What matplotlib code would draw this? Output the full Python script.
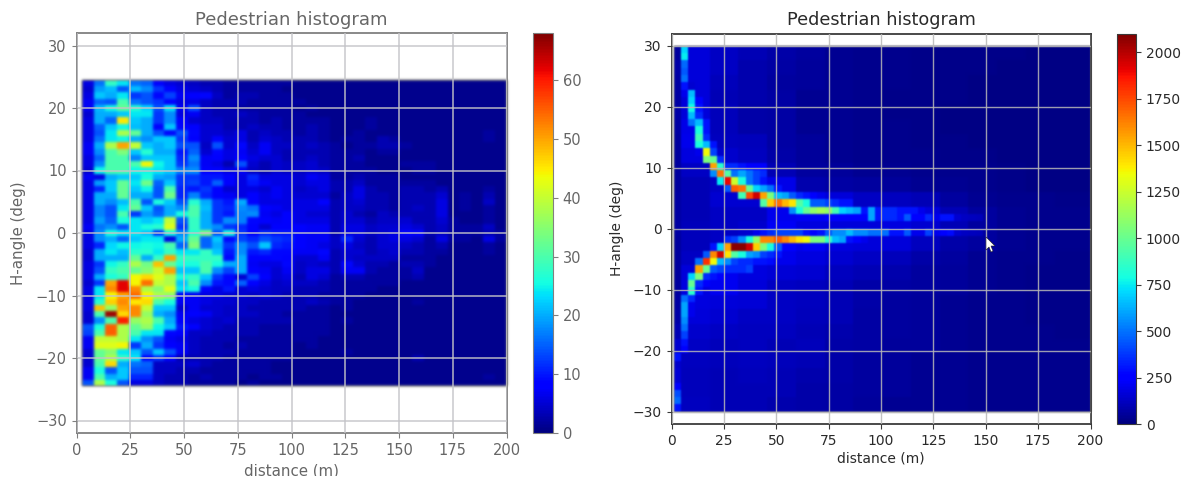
import numpy as np
import matplotlib
matplotlib.use("Agg")
import matplotlib.pyplot as plt
from matplotlib.patches import Polygon, Rectangle

''' [ LEFT DATA ] '''

# first 16 distance bins, top row (+24.5 deg) to bottom row (-24.5 deg)
left_near = [
    [6,16,28,24,16,15,8,6,5,4,3,3,2,2,2,2],
    [5,19,21,14,21,18,12,8,6,5,4,3,2,2,2,2],
    [6,22,20,24,12,14,9,13,7,8,9,4,2,3,3,2],
    [7,15,14,30,16,14,12,8,6,6,4,3,3,3,2,2],
    [7,21,26,32,27,23,14,24,7,14,4,3,3,2,2,2],
    [5,20,20,22,24,24,12,18,6,7,4,3,3,4,3,2],
    [6,20,15,45,22,20,12,18,8,5,4,4,3,3,3,2],
    [6,15,22,25,21,20,8,22,9,8,5,5,3,3,4,3],
    [6,14,24,38,32,20,14,9,14,9,5,5,4,6,3,4],
    [6,16,24,25,20,18,22,22,12,8,5,8,5,6,3,5],
    [7,20,38,50,40,22,20,22,14,14,4,14,5,9,4,7],
    [7,18,30,34,22,27,20,20,10,15,5,9,6,7,5,7],
    [6,15,30,30,17,22,22,22,11,18,7,8,6,8,6,5],
    [6,18,30,30,30,44,25,22,12,16,7,6,3,14,5,3],
    [5,25,30,30,25,25,24,22,17,18,8,8,6,7,4,3],
    [7,6,20,22,22,26,20,19,12,12,10,10,8,6,11,6],
    [6,19,22,32,24,33,15,22,12,13,10,15,8,6,10,7],
    [6,11,22,32,22,25,14,30,11,10,12,8,5,6,6,5],
    [6,20,20,32,20,20,14,33,11,17,11,8,7,6,8,6],
    [6,20,18,21,30,14,26,22,14,27,20,12,10,20,8,6],
    [6,17,14,24,32,22,14,20,18,30,21,12,11,18,16,8],
    [6,17,14,30,12,19,15,20,26,30,20,12,10,17,18,7],
    [6,19,15,26,24,22,24,40,14,28,20,12,18,17,9,8],
    [7,16,18,14,24,26,27,42,12,28,20,18,12,11,8,5],
    [6,18,26,24,24,22,12,26,18,27,34,14,26,12,8,11],
    [6,18,20,15,22,24,24,6,20,32,15,22,9,13,11,14],
    [6,11,23,25,25,26,25,30,15,34,15,20,12,18,14,22],
    [5,20,24,21,27,27,24,28,24,24,28,22,10,18,10,11],
    [5,20,20,20,32,20,28,50,28,28,28,28,9,20,8,8],
    [6,12,25,28,38,33,48,32,26,26,30,26,20,20,7,6],
    [6,14,28,30,32,35,40,50,22,22,30,18,13,20,8,7],
    [6,20,26,28,44,46,42,38,26,28,22,12,9,5,13,8],
    [5,12,50,62,44,54,40,38,22,30,18,10,9,15,8,6],
    [6,24,52,62,52,38,35,42,24,26,8,6,10,5,6,5],
    [6,24,44,50,54,44,38,36,8,7,6,6,5,5,4,5],
    [6,27,47,52,45,46,30,26,7,7,6,5,5,4,4,3],
    [6,48,36,50,52,40,22,22,5,7,5,5,4,4,3,3],
    [5,30,66,46,52,36,20,18,7,8,7,5,4,4,4,3],
    [5,18,30,60,36,38,30,20,8,6,5,4,5,3,3,3],
    [14,26,55,38,32,36,25,22,10,8,5,4,3,3,3,2],
    [13,30,55,38,30,24,24,9,8,4,4,3,3,3,3,2],
    [7,40,40,38,24,18,14,7,6,4,3,3,3,2,2,2],
    [7,42,42,44,12,20,12,8,7,4,3,3,2,3,2,2],
    [5,32,35,24,22,14,22,14,7,4,3,3,3,2,2,2],
    [5,32,38,28,24,9,12,8,3,3,3,3,2,2,2,2],
    [5,30,46,20,16,15,4,4,4,5,3,2,2,2,2,2],
    [7,26,14,22,14,14,4,4,3,3,2,2,2,2,2,2],
    [7,30,20,22,11,11,4,3,3,2,3,2,2,2,1,2],
    [14,38,26,14,6,6,4,3,3,2,2,2,2,1,2,1],
]

# remaining 20 distance bins, same rows
left_far = [
    [2,2,1,1,1,1,1,1,1,1,1,1,1,1,1,1,1,1,1,1],
    [2,1,1,1,1,1,1,1,1,1,1,1,1,1,1,1,1,1,1,1],
    [2,2,1,1,1,1,1,1,1,1,1,1,1,1,1,1,1,1,1,1],
    [2,2,2,1,1,1,1,1,1,1,1,1,1,1,1,1,1,1,1,1],
    [2,2,1,2,1,1,1,1,1,1,1,1,1,1,1,1,1,1,1,1],
    [2,2,2,1,1,1,1,1,1,1,1,1,1,1,1,1,1,1,1,1],
    [3,2,2,2,2,1,1,1,2,1,1,1,1,1,1,1,1,1,1,1],
    [3,2,2,3,2,1,1,1,2,1,1,1,1,1,1,1,1,1,1,1],
    [3,3,2,3,2,1,1,2,1,1,1,1,1,1,1,1,1,1,2,1],
    [4,3,3,3,2,1,2,2,1,3,2,1,1,1,1,1,1,1,2,1],
    [4,4,3,4,3,2,1,2,2,3,3,2,1,1,1,1,1,1,1,1],
    [4,3,3,3,3,2,2,2,1,2,2,1,1,1,1,1,1,1,1,1],
    [5,3,3,4,3,2,2,3,1,1,1,1,1,1,1,1,1,1,1,1],
    [5,4,4,5,3,2,2,2,1,1,1,2,2,2,1,1,1,1,1,1],
    [5,4,4,5,4,2,2,2,2,1,1,1,2,2,1,1,1,1,1,1],
    [6,6,5,7,6,2,2,3,2,2,2,1,1,1,1,1,1,1,1,1],
    [6,6,5,6,6,3,3,4,2,2,2,2,2,2,1,1,1,1,1,1],
    [7,6,4,5,6,3,3,6,3,2,2,3,3,2,3,1,1,1,2,1],
    [7,6,5,5,5,2,4,6,3,3,2,3,3,3,5,1,2,1,3,1],
    [6,6,6,6,8,3,4,5,3,3,2,3,3,3,6,1,2,1,4,1],
    [7,6,6,6,6,3,4,4,3,3,2,3,4,3,6,1,2,1,2,1],
    [6,8,6,5,5,3,5,3,2,4,3,3,3,3,6,1,1,1,2,1],
    [7,8,6,6,6,3,5,5,3,4,4,5,3,3,5,2,1,1,2,1],
    [8,8,8,7,7,3,6,6,4,5,5,6,5,3,4,2,2,2,4,1],
    [10,10,8,7,7,3,6,6,4,5,6,8,8,3,4,2,2,2,3,2],
    [12,11,8,7,7,4,11,5,3,5,6,6,5,2,6,2,2,1,6,2],
    [11,10,8,7,6,4,6,4,3,5,5,4,3,2,3,1,1,1,2,1],
    [9,9,7,7,9,3,5,5,3,4,5,3,3,2,2,1,1,1,2,1],
    [9,8,5,5,7,3,5,4,4,4,4,2,2,2,1,1,1,1,1,1],
    [6,9,4,5,4,3,9,5,3,3,2,3,3,2,1,1,1,1,1,1],
    [5,7,4,6,6,3,7,7,3,2,2,2,4,1,1,1,1,1,1,1],
    [5,6,3,6,5,2,3,3,2,2,2,2,3,1,1,1,1,1,1,1],
    [4,5,4,4,3,2,2,2,2,2,2,1,1,1,1,1,1,1,1,1],
    [4,4,3,3,3,2,2,2,2,1,1,1,1,1,1,1,1,1,1,1],
    [4,3,3,3,2,2,2,2,1,1,1,1,1,1,1,1,1,1,1,1],
    [3,3,3,4,3,2,2,1,1,1,1,1,2,1,1,1,1,1,1,1],
    [3,3,3,2,2,1,2,1,1,1,1,1,1,1,1,1,1,1,1,1],
    [3,2,2,2,2,1,1,1,1,1,1,1,1,1,1,1,1,1,1,1],
    [3,3,2,2,2,1,2,1,1,1,1,1,1,1,1,1,1,1,1,1],
    [2,2,2,2,2,1,1,1,1,1,1,1,1,1,1,1,1,1,1,1],
    [2,2,2,2,2,1,1,1,1,1,1,1,1,1,1,1,1,1,1,1],
    [2,2,2,2,1,1,1,1,1,1,1,1,1,1,1,1,1,1,1,1],
    [2,2,1,2,1,1,1,1,1,1,1,1,1,1,1,1,1,1,1,1],
    [2,2,1,1,1,1,2,1,1,1,1,1,1,1,1,1,1,1,1,1],
    [2,2,1,1,1,1,1,1,1,1,1,1,3,1,1,1,1,1,1,1],
    [1,1,1,1,1,1,1,1,1,1,1,1,1,1,1,1,1,1,1,1],
    [1,1,1,1,1,1,1,1,1,1,1,1,1,1,1,1,1,1,1,1],
    [2,1,1,1,1,1,1,1,1,1,1,1,1,1,1,1,1,1,2,1],
    [1,1,1,1,1,1,1,1,1,1,1,1,1,1,1,1,1,1,1,1],
]

''' [ RIGHT DATA ] '''

# background level for 2 angle rows each: first bin alone, then groups of bins
right_background = [
    [60,170,130,100,80,60,40,30,25,20,20,20,20,15,15],
    [80,170,130,90,70,50,40,30,25,20,20,20,15,15,15],
    [70,170,110,90,60,50,40,30,25,20,20,15,15,15,15],
    [70,170,100,90,70,40,35,25,20,20,20,15,15,15,15],
    [80,170,110,80,70,40,35,25,20,20,15,15,15,15,15],
    [70,190,110,80,70,40,35,30,25,20,15,15,15,15,15],
    [60,200,120,110,70,50,40,30,25,20,20,15,15,15,15],
    [60,180,140,120,80,50,40,30,30,25,20,20,15,15,15],
    [60,130,220,250,100,60,50,40,35,30,30,25,20,15,15],
    [60,100,130,230,190,90,70,60,50,40,40,30,20,15,15],
    [70,100,150,150,200,200,170,130,120,100,60,40,30,25,20],
    [70,100,130,130,200,220,230,250,200,170,100,60,40,30,25],
    [70,110,130,140,220,180,170,170,180,150,100,60,40,30,25],
    [60,110,130,240,230,220,180,170,170,120,80,60,40,30,25],
    [60,130,170,200,200,180,150,130,110,80,60,40,30,25,20],
    [60,170,210,180,160,150,120,100,90,60,50,40,30,20,20],
    [60,180,210,170,130,120,100,80,70,60,50,40,30,20,20],
    [70,180,170,160,130,120,100,80,60,50,40,30,30,20,20],
    [80,170,150,130,130,110,100,70,60,50,40,30,30,20,20],
    [100,140,130,120,120,100,90,70,60,50,40,30,30,25,20],
    [150,130,110,120,100,110,80,70,50,50,40,30,30,25,25],
    [140,120,110,120,110,100,80,60,50,40,40,30,30,25,25],
    [160,110,100,110,100,90,80,60,50,40,40,30,25,25,25],
    [240,110,100,100,100,80,70,60,50,40,35,30,30,30,30],
    [300,120,100,100,90,80,70,50,40,40,35,30,30,30,30],
]
right_background_bins = [1, 4, 4, 4, 4, 4, 4, 4, 4, 4, 4, 4, 4, 4, 5]

# bright arms: angle row, first distance bin, counts along that row
right_arms = [
    (0, 1, [700]), (1, 1, [750]), (2, 1, [480]), (3, 1, [450]), (4, 1, [500]),
    (5, 1, [300, 150]), (6, 1, [200, 650]), (7, 2, [700, 250]), (8, 2, [780, 300]),
    (9, 2, [650, 350]), (10, 2, [500, 650, 300]), (11, 3, [800, 300]), (12, 3, [900, 350]),
    (13, 3, [800, 650, 300]), (14, 3, [200, 1350, 400]), (15, 4, [1050, 1000, 350]),
    (16, 5, [1550, 850, 350, 350, 300]),
    (17, 5, [550, 1650, 950, 500, 600, 500, 400, 350]),
    (18, 6, [750, 1900, 1250, 800, 500, 400, 300]),
    (19, 7, [450, 1700, 1650, 1000, 700, 600, 500, 300]),
    (20, 9, [900, 1750, 1950, 1550, 1050, 650, 600, 450, 350, 300, 250]),
    (21, 12, [950, 1450, 1650, 1500, 1400, 950, 800, 450, 450, 400, 350, 300, 300]),
    (22, 16, [550, 800, 1000, 1100, 1150, 1100, 900, 700, 650, 600, 300, 600, 300, 350, 350, 300, 300, 300, 200]),
    (23, 27, [600, 300, 350, 350, 300, 450, 250, 250, 350, 200, 300, 300, 150, 130, 120, 110]),
    (25, 10, [150, 200, 300, 350, 400, 400, 400, 400, 300, 250, 300, 450, 550, 550, 650, 550, 550,
              500, 500, 500, 300, 300, 450, 200, 200, 400, 200, 250, 280, 150, 130, 120, 110]),
    (26, 7, [350, 400, 550, 800, 1100, 1600, 1600, 1700, 1600, 1500, 1400, 1350, 1050, 1050, 850, 650, 600, 300, 250, 200]),
    (27, 5, [300, 700, 1550, 2080, 2080, 1950, 1450, 1050, 800, 450, 250, 250, 200]),
    (28, 4, [450, 1600, 1950, 1400, 950, 800, 600, 550, 400, 350, 300]),
    (29, 3, [500, 1800, 1350, 650, 550, 400, 350, 350, 300, 300, 280]),
    (30, 3, [1550, 1000, 450, 400, 350, 350, 350, 400]),
    (31, 2, [700, 1050, 350, 300, 250]), (32, 2, [1000, 350, 250]), (33, 2, [850, 300]),
    (34, 1, [500, 350]), (35, 1, [600, 200]), (36, 1, [600, 200]), (37, 1, [550]),
    (38, 1, [500]), (39, 1, [400]), (40, 1, [300]), (41, 1, [250]), (42, 0, [300]),
    (47, 0, [420]), (48, 0, [480]), (49, 0, [300]),
]

x_ticks = [0, 25, 50, 75, 100, 125, 150, 175, 200]
left_y_ticks = [-30, -20, -10, 0, 10, 20, 30]
right_y_ticks = [-30, -20, -10, 0, 10, 20, 30]
left_cbar_ticks = [0, 10, 20, 30, 40, 50, 60]
right_cbar_ticks = [0, 250, 500, 750, 1000, 1250, 1500, 1750, 2000]


''' [ PLOTS ] '''

def softFilter(sigma):
    # the reference is a scaled screenshot, so the cells have soft edges
    radius = int(3 * sigma) + 1
    kernel = np.exp(-0.5 * (np.arange(-radius, radius + 1) / sigma) ** 2)
    kernel = kernel / kernel.sum()
    def applyFilter(image, dpi):
        padded = np.pad(image, ((radius, radius), (radius, radius), (0, 0)), mode="constant")
        padded = np.apply_along_axis(np.convolve, 0, padded, kernel, mode="same")
        padded = np.apply_along_axis(np.convolve, 1, padded, kernel, mode="same")
        return padded, -radius, -radius
    return applyFilter

def makeHistogram(fig, axBox, cbarBox, xEdges, yEdges, counts, vmax, yTicks, cbarTicks, style):
    ax = fig.add_axes(axBox)
    mesh = ax.pcolormesh(xEdges, yEdges, counts, cmap="jet", vmin=0, vmax=vmax)
    mesh.set_agg_filter(softFilter(style["blur"]))
    ax.set_xlim(0, 200)
    ax.set_ylim(-32, 32)
    ax.set_xticks(x_ticks)
    ax.set_yticks(yTicks)
    ax.set_axisbelow(False)
    ax.grid(True, color=style["grid"], linewidth=style["gridWidth"], alpha=0.85)
    ax.set_title("Pedestrian histogram", color=style["text"], fontsize=style["title"], pad=6)
    ax.set_xlabel("distance (m)", color=style["text"], fontsize=style["label"], labelpad=style["xpad"])
    ax.set_ylabel("H-angle (deg)", color=style["text"], fontsize=style["label"], labelpad=style["ypad"])
    ax.tick_params(colors=style["spine"], labelcolor=style["text"], labelsize=style["tick"])
    for spine in ax.spines.values():
        spine.set_color(style["spine"])
        spine.set_linewidth(1.3)

    cax = fig.add_axes(cbarBox)
    cbar = fig.colorbar(mesh, cax=cax, ticks=cbarTicks)
    cbar.solids.set_agg_filter(None)
    cbar.ax.tick_params(colors=style["spine"], labelcolor=style["text"], labelsize=style["tick"])
    cbar.outline.set_edgecolor(style["spine"])
    return ax

def box(x0, y0, x1, y1):
    # pixel corners (y from the top of the picture) to a figure fraction box
    return [x0 / 1184, 1 - y1 / 482, (x1 - x0) / 1184, (y1 - y0) / 482]


fig = plt.figure(figsize=(11.84, 4.82), dpi=100)

leftStyle = {"text": "#666666", "spine": "#808080", "grid": "#c4c4c8", "gridWidth": 1.2, "blur": 1.4,
             "title": 13, "label": 10.8, "tick": 10.5, "xpad": 4, "ypad": 7}
rightStyle = {"text": "#2a2a2a", "spine": "#3a3a3a", "grid": "#b8b8b8", "gridWidth": 1.0, "blur": 0.9,
              "title": 12.7, "label": 10, "tick": 10, "xpad": 3, "ypad": 6}

leftCounts = np.hstack([np.array(left_near), np.array(left_far)])
leftX = np.linspace(2.5, 200, leftCounts.shape[1] + 1)
leftY = np.linspace(24.5, -24.5, leftCounts.shape[0] + 1)
makeHistogram(fig, box(76.5, 33, 506.5, 433), box(533, 33, 553, 433), leftX, leftY, leftCounts,
              68, left_y_ticks, left_cbar_ticks, leftStyle)

rightCounts = np.repeat(np.repeat(np.array(right_background), 2, axis=0), right_background_bins, axis=1).astype(float)
for row, firstBin, values in right_arms:
    rightCounts[row, firstBin:firstBin + len(values)] = values
rightX = np.linspace(1.1, 200, rightCounts.shape[1] + 1)
rightY = np.linspace(30, -30, rightCounts.shape[0] + 1)
makeHistogram(fig, box(671.5, 33.5, 1090.5, 424), box(1117, 33.5, 1136, 424), rightX, rightY, rightCounts,
              2100, right_y_ticks, right_cbar_ticks, rightStyle)

# mouse pointer caught in the screenshot
pointer = [(986, 237), (986, 250), (989, 247), (991, 252), (993, 251), (991, 246), (995, 246)]
fig.add_artist(Polygon([(px / 1184, 1 - py / 482) for px, py in pointer], closed=True,
                       facecolor="white", edgecolor="#222222", linewidth=0.4, transform=fig.transFigure, zorder=10))

# the left screenshot is cropped through its x label
fig.add_artist(Rectangle((0, 0), 0.5, 6 / 482, facecolor="white", edgecolor="none",
                         transform=fig.transFigure, zorder=10))

plt.savefig("out.png", dpi=100)
